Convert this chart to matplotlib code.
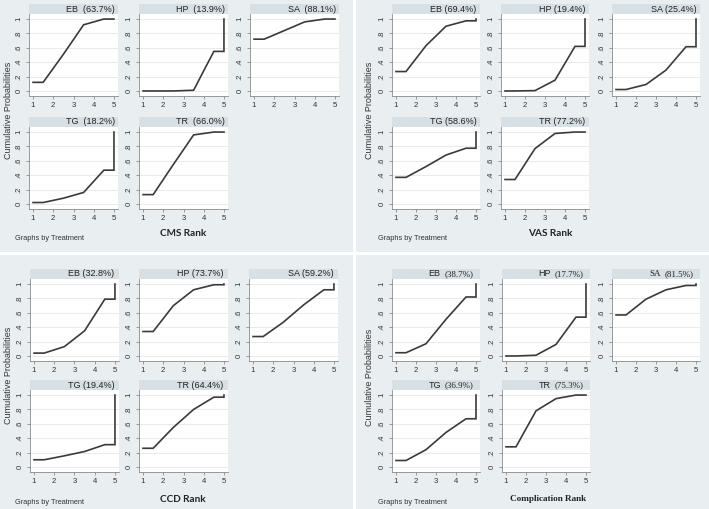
import matplotlib
matplotlib.use("Agg")
import matplotlib.pyplot as plt
from matplotlib.patches import Rectangle

treatments = ["EB", "HP", "SA", "TG", "TR"]
ranks = [1, 2, 3, 4, 5]

# cumulative probabilities for ranks 1..5 (per treatment)
cms_cum = [[0.12, 0.51, 0.92, 1.00, 1.0],
           [0.00, 0.00, 0.01, 0.55, 1.0],
           [0.72, 0.84, 0.96, 1.00, 1.0],
           [0.02, 0.08, 0.16, 0.47, 1.0],
           [0.13, 0.55, 0.96, 1.00, 1.0]]
cms_sucra = ["63.7", "13.9", "88.1", "18.2", "66.0"]

vas_cum = [[0.27, 0.63, 0.90, 0.975, 1.0],
           [0.00, 0.005, 0.15, 0.62, 1.0],
           [0.02, 0.09, 0.29, 0.615, 1.0],
           [0.37, 0.52, 0.68, 0.775, 1.0],
           [0.34, 0.77, 0.98, 1.00, 1.0]]
vas_sucra = ["69.4", "19.4", "25.4", "58.6", "77.2"]

ccd_cum = [[0.04, 0.13, 0.35, 0.79, 1.0],
           [0.34, 0.70, 0.92, 0.99, 1.0],
           [0.27, 0.47, 0.71, 0.92, 1.0],
           [0.10, 0.155, 0.215, 0.31, 1.0],
           [0.26, 0.55, 0.80, 0.97, 1.0]]
ccd_sucra = ["32.8", "73.7", "59.2", "19.4", "64.4"]

comp_cum = [[0.045, 0.17, 0.51, 0.82, 1.0],
            [0.00, 0.01, 0.16, 0.54, 1.0],
            [0.57, 0.79, 0.92, 0.98, 1.0],
            [0.09, 0.24, 0.48, 0.67, 1.0],
            [0.28, 0.78, 0.95, 1.00, 1.0]]
comp_sucra = ["38.7", "17.7", "81.5", "36.9", "75.3"]

outcome_labels = ["CMS Rank", "VAS Rank", "CCD Rank", "Complication Rank"]
yticks = [0, 0.2, 0.4, 0.6, 0.8, 1.0]
ytick_labels = ["0", ".2", ".4", ".6", ".8", "1"]

W, H = 709, 509
fig = plt.figure(figsize=(W / 100, H / 100), dpi=100)
fig.patch.set_facecolor("white")

BG = "#E9EFF1"
HDR = "#D6E0E5"
LINE = "#3A3A3A"
SANS = ["Liberation Sans", "DejaVu Sans"]


def fig_rect(x, y, w, h, **kw):
    fig.patches.append(Rectangle((x / W, 1 - (y + h) / H), w / W, h / H,
                                 transform=fig.transFigure, **kw))


def add_ax(x, y, w, h):
    return fig.add_axes([x / W, 1 - (y + h) / H, w / W, h / H])


quads = [
    dict(bg=(0, 0, 353, 252), cols=[29, 139, 250], cw=89, rows=[14, 127],
         ylab=(9, 110), gbt=(15, 238), rank=(183, 234), cum=cms_cum, suc=cms_sucra,
         style="wide", tx=0.965),
    dict(bg=(356, 0, 353, 252), cols=[392, 501, 612], cw=88, rows=[14, 127],
         ylab=(370, 110), gbt=(378, 238), rank=(550, 233), cum=vas_cum, suc=vas_sucra,
         style="plain", tx=0.96),
    dict(bg=(0, 255, 353, 254), cols=[30, 139, 249], cw=89, rows=[279, 390],
         ylab=(9, 375), gbt=(15, 502), rank=(183, 499), cum=ccd_cum, suc=ccd_sucra,
         style="plain", tx=0.95),
    dict(bg=(356, 255, 353, 254), cols=[392, 502, 612], cw=88, rows=[279, 390],
         ylab=(370, 377), gbt=(378, 502), rank=(548, 499), cum=comp_cum, suc=comp_sucra,
         style="serif", tx=0.93),
]

AX_H = 82
HDR_H = 10

for qi, q in enumerate(quads):
    fig_rect(*q["bg"], facecolor=BG, edgecolor="none", zorder=-10)
    for ti, tname in enumerate(treatments):
        r, c = divmod(ti, 3)
        x0 = q["cols"][c]
        y0 = q["rows"][r]
        ax = add_ax(x0, y0, q["cw"], AX_H)
        ax.set_zorder(2)
        ax.set_facecolor("white")
        vals = q["cum"][ti]
        xs = [ranks[0], ranks[0] + 0.5] + [rk + 0.5 for rk in ranks[1:4]] + [ranks[4], ranks[4]]
        ys = [vals[0], vals[0], vals[1], vals[2], vals[3], vals[3], vals[4]]
        ax.plot(xs, ys, color=LINE, lw=1.2, solid_joinstyle="miter", zorder=3)
        ax.set_xlim(0.8, 5.2)
        ax.set_ylim(-0.07, 1.07)
        ax.set_xticks(ranks)
        ax.set_xticklabels([str(v) for v in ranks], fontsize=5.6, family=SANS, color="#333333")
        ax.set_yticks(yticks)
        ax.set_yticklabels(ytick_labels, fontsize=5.6, family=SANS, color="#333333",
                           rotation=90, va="center")
        ax.tick_params(axis="both", length=2.5, width=0.5, color="#777777", pad=2)
        ax.grid(axis="y", color="#E6E6E6", lw=0.6)
        ax.set_axisbelow(True)
        for s in ["top", "right"]:
            ax.spines[s].set_visible(False)
        for s in ["left", "bottom"]:
            ax.spines[s].set_color("#8A8A8A")
            ax.spines[s].set_linewidth(0.6)
        h = HDR_H / AX_H
        ax.add_patch(Rectangle((0, 1), 1, h, transform=ax.transAxes, clip_on=False,
                               facecolor=HDR, edgecolor="none"))
        ty = 1 + h / 2
        if q["style"] == "wide":
            ax.text(q["tx"], ty, f"{tname}  ({q['suc'][ti]}%)", transform=ax.transAxes,
                    ha="right", va="center", fontsize=6.5, family=SANS, color="#222222")
        elif q["style"] == "plain":
            ax.text(q["tx"], ty, f"{tname} ({q['suc'][ti]}%)", transform=ax.transAxes,
                    ha="right", va="center", fontsize=6.5, family=SANS, color="#222222")
        else:
            fam = ["Liberation Serif"] if tname == "SA" else SANS
            t2 = ax.text(q["tx"], ty, f"({q['suc'][ti]}%)", transform=ax.transAxes,
                         ha="right", va="center", fontsize=6.5,
                         family=["Liberation Serif"], color="#222222")
            ax.annotate(tname, xy=(0, 0.5), xycoords=t2, xytext=(-3, 0),
                        textcoords="offset points", ha="right", va="center",
                        fontsize=6.5, family=fam, color="#222222")

    fig.text(q["ylab"][0] / W, 1 - q["ylab"][1] / H, "Cumulative Probabilities",
             rotation=90, ha="center", va="center", fontsize=6.5, family=SANS, color="#333333")
    fig.text(q["gbt"][0] / W, 1 - q["gbt"][1] / H, "Graphs by Treatment",
             ha="left", va="center", fontsize=5.3, family=SANS, color="#333333")
    if qi == 3:
        fig.text(q["rank"][0] / W, 1 - q["rank"][1] / H, outcome_labels[qi],
                 ha="center", va="center", fontsize=6.6, family=["Liberation Serif"],
                 weight="bold", color="#222222")
    else:
        fig.text(q["rank"][0] / W, 1 - q["rank"][1] / H, outcome_labels[qi],
                 ha="center", va="center", fontsize=7.2, family=["Lato", "DejaVu Sans"],
                 weight="bold", color="#222222")

fig.savefig("out.png", dpi=100, facecolor="white")
